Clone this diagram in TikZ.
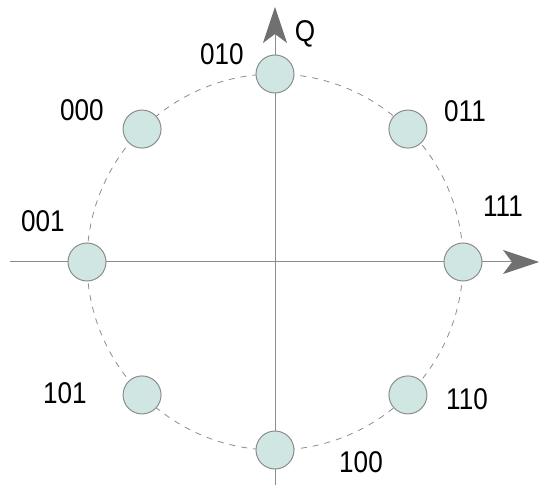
\documentclass[tikz,border=0pt]{standalone}
\usepackage{fontspec}
\setmainfont{Liberation Sans}
\newfontfamily\lblfont[FakeStretch=0.87]{Liberation Sans}
\usetikzlibrary{arrows.meta}
\definecolor{axisgray}{HTML}{8C8C8C}
\definecolor{headgray}{HTML}{707070}
\definecolor{symfill}{HTML}{D0E6E3}
\tikzset{
  sym/.style={circle,draw=axisgray,fill=symfill,line width=1pt,minimum size=38pt,inner sep=0pt},
  axis/.style={draw=axisgray,line width=1pt,
    -{Stealth[length=36pt,width=24pt,inset=9pt,color=headgray]}},
  ring/.style={draw=axisgray,line width=0.8pt,dash pattern=on 6pt off 6pt},
  lbl/.style={font=\lblfont\fontsize{30}{32}\selectfont,inner sep=0pt}
}
\begin{document}
\begin{tikzpicture}[x=1pt,y=1pt]
  \useasboundingbox (-275,-225) rectangle (284,262);
  \coordinate (o) at (0,0);
  \coordinate (xl) at (-265,0);
  \coordinate (xr) at (264,0);
  \coordinate (yb) at (0,-223);
  \coordinate (yt) at (0,255);
  % constellation ring and axes
  \draw[ring] (o) circle (188);
  \draw[axis] (xl)--(xr);
  \draw[axis] (yb)--(yt);
  \node[lbl] (q) at (30,228) {Q};
  % symbols with their bit labels
  \foreach \a/\bits/\lx/\ly in {90/010/-53/208, 45/011/190/151, 0/111/228/56,
      -45/110/192/-137, -90/100/86/-200, -135/101/-210/-131,
      180/001/-232/41, 135/000/-193/152} {
    \node[sym] (s\bits) at (\a:188) {};
    \node[lbl] (l\bits) at (\lx,\ly) {\bits};
  }
\end{tikzpicture}
\end{document}
